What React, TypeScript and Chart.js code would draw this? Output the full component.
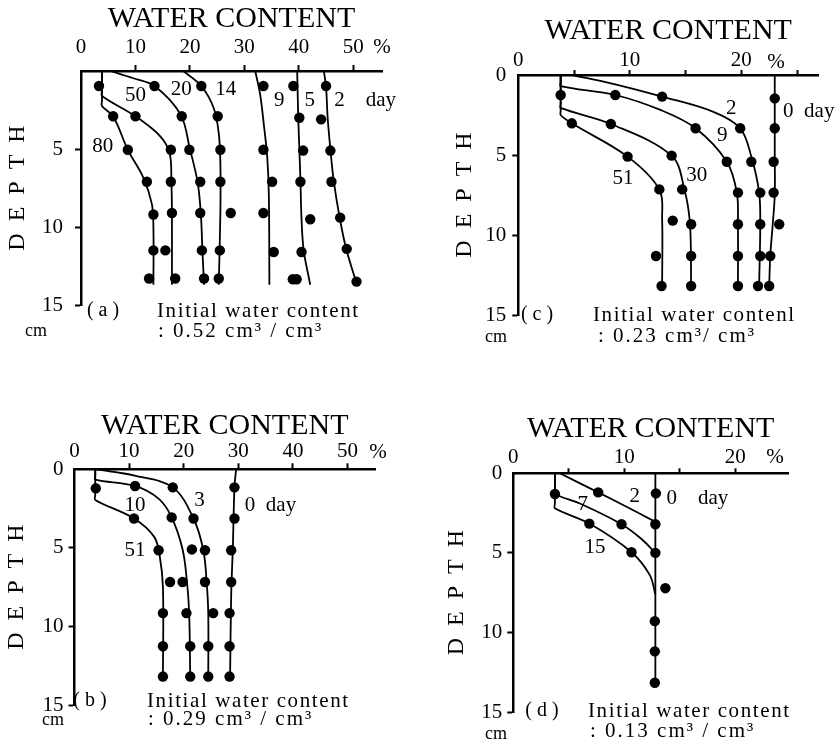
import React, { useEffect, useRef } from 'react';
import { Chart, registerables } from 'chart.js';

Chart.register(...registerables);

const FONT = "'Liberation Serif', 'DejaVu Serif', 'Times New Roman', serif";
Chart.defaults.font.family = FONT;
Chart.defaults.color = '#000';

type P = [number, number]; // [water content %, depth cm]

// ---------- Panel (a): initial water content 0.52 ----------
const aObs2: P[] = [[45.0, 0.96], [44.1, 3.1], [45.8, 5.1], [46.0, 7.1], [47.6, 9.4], [48.8, 11.4], [50.6, 13.5]];
const aObs5: P[] = [[39.0, 0.96], [40.1, 3.0], [40.8, 5.1], [40.3, 7.1], [42.1, 9.5], [40.5, 11.6], [38.9, 13.35], [39.6, 13.35]];
const aObs9: P[] = [[33.5, 0.96], [33.5, 5.05], [35.1, 7.1], [33.5, 9.1], [35.4, 11.6]];
const aObs14: P[] = [[22.1, 0.96], [25.1, 2.9], [25.6, 5.05], [25.6, 7.1], [27.5, 9.1], [25.5, 11.5], [25.3, 13.3]];
const aObs20: P[] = [[13.5, 0.96], [18.5, 2.9], [19.9, 5.05], [21.9, 7.1], [21.9, 9.1], [22.2, 11.5], [22.6, 13.3]];
const aObs50: P[] = [[10.0, 2.9], [16.5, 5.05], [16.5, 7.1], [16.7, 9.1], [15.5, 11.5], [17.3, 13.3]];
const aObs80: P[] = [[3.3, 0.96], [5.9, 2.9], [8.6, 5.05], [12.1, 7.1], [13.3, 9.2], [13.3, 11.5], [12.5, 13.3]];

const aFit2: P[] = [[44.6, 0], [45.0, 1], [45.3, 3], [45.8, 5], [46.4, 7], [47.4, 9.2], [48.7, 11.4], [50.6, 13.6]];
const aFit5: P[] = [[39.7, 0], [39.9, 3], [40.1, 5], [40.3, 7], [40.5, 9.5], [40.9, 11.5], [42.1, 13.7]];
const aFit9: P[] = [[32.0, 0], [32.9, 1.5], [33.6, 3.5], [34.2, 5.5], [34.5, 8], [34.6, 13.7]];
const aFit14: P[] = [[18.8, 0], [22.1, 0.96], [24.4, 2.4], [25.3, 4], [25.6, 6], [25.6, 9], [25.3, 13.7]];
const aFit20: P[] = [[5.4, 0], [9.5, 0.45], [13.5, 0.96], [18.3, 2.8], [20.0, 5.0], [21.4, 7.1], [22.0, 9.1], [22.3, 11.5], [22.6, 13.7]];
const aFit50: P[] = [[3.85, 0], [3.85, 1.3], [3.85, 1.6], [10.0, 2.9], [14.6, 4.2], [16.3, 5.3], [16.6, 7.1], [16.7, 9], [16.7, 13.7]];
const aFit80: P[] = [[3.85, 0], [3.85, 1.9], [3.85, 2.25], [5.9, 2.9], [8.6, 5.05], [11.4, 6.8], [13.0, 8.5], [13.3, 10], [13.3, 13.7]];

// ---------- Panel (c): initial water content 0.23 ----------
const cObs0: P[] = [[23.0, 1.46], [23.0, 3.33], [22.9, 5.42], [22.9, 7.35], [23.4, 9.33], [22.6, 11.31], [22.5, 13.19]];
const cObs2: P[] = [[12.9, 1.35], [19.9, 3.33], [20.9, 5.42], [21.7, 7.35], [21.7, 9.33], [21.7, 11.31], [21.5, 13.19]];
const cObs9: P[] = [[8.7, 1.25], [15.9, 3.33], [18.7, 5.42], [19.7, 7.35], [19.7, 9.33], [19.7, 11.31], [19.7, 13.19]];
const cObs30: P[] = [[3.8, 1.25], [8.3, 3.06], [13.75, 5.04], [14.7, 7.15], [15.5, 9.33], [15.5, 11.31], [15.5, 13.19]];
const cObs51: P[] = [[4.8, 3.02], [9.8, 5.1], [12.65, 7.15], [13.85, 9.1], [12.35, 11.31], [12.85, 13.19]];

const cFit0: P[] = [[23.0, 0], [23.0, 5], [23.0, 7.5], [22.8, 9.5], [22.6, 11.3], [22.5, 13.2]];
const cFit2: P[] = [[4.8, 0], [8.5, 0.55], [12.9, 1.35], [17.5, 2.3], [19.9, 3.33], [20.9, 5.1], [21.6, 7.35], [21.7, 9.33], [21.6, 13.2]];
const cFit9: P[] = [[3.8, 0], [3.8, 0.45], [3.8, 0.69], [8.7, 1.25], [12.8, 2.2], [15.9, 3.33], [18.7, 5.42], [19.6, 7.35], [19.7, 9.33], [19.7, 13.2]];
const cFit30: P[] = [[3.8, 0], [3.8, 1.8], [3.8, 2.06], [8.3, 3.06], [13.75, 5.04], [14.9, 7.15], [15.4, 9.33], [15.5, 13.2]];
const cFit51: P[] = [[3.8, 0], [3.8, 2.25], [3.8, 2.5], [4.8, 3.02], [9.8, 5.1], [12.65, 7.15], [12.9, 9], [12.9, 13.2]];

// ---------- Panel (b): initial water content 0.29 ----------
const bObs0: P[] = [[29.3, 1.15], [29.3, 3.13], [28.7, 5.15], [28.7, 7.17], [28.4, 9.15], [28.4, 11.26], [28.4, 13.19]];
const bObs3: P[] = [[18.0, 1.15], [21.8, 3.13], [23.9, 5.15], [23.9, 7.17], [25.4, 9.15], [24.5, 11.26], [24.5, 13.19]];
const bObs10: P[] = [[11.1, 1.06], [17.8, 3.06], [21.5, 5.1], [19.8, 7.17], [20.5, 9.15], [21.2, 11.26], [21.2, 13.19]];
const bObs51: P[] = [[3.9, 1.21], [10.9, 3.13], [15.4, 5.15], [17.5, 7.17], [16.2, 9.15], [16.2, 11.26], [16.2, 13.19]];

const bFit0: P[] = [[29.6, 0], [29.3, 1.15], [29.0, 5], [28.7, 8], [28.5, 13.2]];
const bFit3: P[] = [[4.0, 0], [11.0, 0.4], [18.0, 1.15], [21.8, 3.13], [23.6, 5.15], [24.2, 7.17], [24.5, 9.15], [24.5, 13.19]];
const bFit10: P[] = [[3.8, 0], [3.8, 0.4], [3.8, 0.65], [11.1, 1.06], [15.5, 1.9], [17.8, 3.06], [19.8, 5.1], [20.6, 7.17], [21.0, 9.15], [21.2, 13.19]];
const bFit51: P[] = [[3.8, 0], [3.8, 1.65], [3.8, 1.95], [10.9, 3.13], [14.6, 4.3], [15.6, 5.5], [16.2, 7.5], [16.2, 13.19]];

// ---------- Panel (d): initial water content 0.13 ----------
const dObs0: P[] = [[12.85, 1.26], [12.8, 3.2], [12.8, 5.0], [13.7, 7.22], [12.75, 9.29], [12.75, 11.19], [12.75, 13.16]];
const dObs2: P[] = [[7.65, 1.2]];
const dObs7: P[] = [[3.75, 1.3], [9.75, 3.2]];
const dObs15: P[] = [[6.85, 3.16], [10.65, 4.96]];

const dFit0: P[] = [[12.8, 0], [12.8, 13.16]];
const dFit2: P[] = [[4.2, 0], [7.65, 1.2], [10.2, 2.1], [12.8, 3.05]];
const dFit7: P[] = [[3.75, 0], [3.75, 1.0], [3.75, 1.3], [6.0, 1.9], [9.75, 3.2], [11.5, 4.1], [12.8, 5.0]];
const dFit15: P[] = [[3.75, 0], [3.75, 1.9], [3.75, 2.2], [6.85, 3.16], [10.65, 4.96], [12.3, 6.4], [12.8, 7.6]];

// ---------- tick labels ----------
const wideXLabels = [0, 10, 20, 30, 40, 50];
const narrowXLabels = [0, 10, 20];
const depthTitle = 'D\u2002E\u2002P\u2002T\u2002H';
const xTitle = 'WATER CONTENT';

type Lbl = { t: string; x: number; y: number; align?: CanvasTextAlign; size?: number };
type Cap = { t: string; x: number; y: number; align?: CanvasTextAlign; size?: number; ls?: number };

const aLabels: Lbl[] = [
  { t: '50', x: 10.0, y: 1.55 }, { t: '20', x: 18.4, y: 1.17 }, { t: '14', x: 26.6, y: 1.17 },
  { t: '9', x: 36.4, y: 1.9 }, { t: '5', x: 42.0, y: 1.9 }, { t: '2\u2003day', x: 46.5, y: 1.9, align: 'left' },
  { t: '80', x: 4.0, y: 4.85 },
];
const cLabels: Lbl[] = [
  { t: '2', x: 19.1, y: 2.08 }, { t: '0\u2002day', x: 23.75, y: 2.3, align: 'left' }, { t: '9', x: 18.3, y: 3.75 },
  { t: '30', x: 16.0, y: 6.25 }, { t: '51', x: 9.4, y: 6.46 },
];
const bLabels: Lbl[] = [
  { t: '3', x: 22.9, y: 1.96 }, { t: '0\u2002day', x: 31.2, y: 2.28, align: 'left' },
  { t: '10', x: 11.1, y: 2.28 }, { t: '51', x: 11.1, y: 5.15 },
];
const dLabels: Lbl[] = [
  { t: '2', x: 10.95, y: 1.47 }, { t: '0\u2003day', x: 13.8, y: 1.58, align: 'left' },
  { t: '7', x: 6.25, y: 1.93 }, { t: '15', x: 7.35, y: 4.64 },
];

const aCaptions: Cap[] = [
  { t: '( a )', x: 103, y: 311, align: 'center', size: 20 },
  { t: 'Initial water content', x: 157, y: 311, ls: 1.6, size: 21 },
  { t: ': 0.52 cm³ / cm³', x: 158, y: 331, ls: 2, size: 21 },
  { t: 'cm', x: 25, y: 331, size: 18 },
  { t: '%', x: 382, y: 47, align: 'center', size: 21 },
];
const cCaptions: Cap[] = [
  { t: '( c )', x: 119, y: 315, align: 'center', size: 20 },
  { t: 'Initial water contenl', x: 175, y: 315, ls: 1.6, size: 21 },
  { t: ': 0.23 cm³/ cm³', x: 180, y: 336, ls: 2, size: 21 },
  { t: 'cm', x: 67, y: 337, size: 18 },
  { t: '%', x: 358, y: 62, align: 'center', size: 21 },
];
const bCaptions: Cap[] = [
  { t: '( b )', x: 90, y: 329, align: 'center', size: 20 },
  { t: 'Initial water content', x: 147, y: 329, ls: 1.6, size: 21 },
  { t: ': 0.29 cm³ / cm³', x: 148, y: 347, ls: 2, size: 21 },
  { t: 'cm', x: 42, y: 348, size: 18 },
  { t: '%', x: 378, y: 80, align: 'center', size: 21 },
];
const dCaptions: Cap[] = [
  { t: '( d )', x: 124, y: 339, align: 'center', size: 20 },
  { t: 'Initial water content', x: 170, y: 339, ls: 1.6, size: 21 },
  { t: ': 0.13 cm³ / cm³', x: 172, y: 359, ls: 2, size: 21 },
  { t: 'cm', x: 67, y: 362, size: 18 },
  { t: '%', x: 357, y: 85, align: 'center', size: 21 },
];

type PanelDef = {
  left: number; top: number; w: number; h: number;
  xMax: number; xStep: number; xLabels: number[];
  yAxisW: number; xAxisH: number; padRight: number; padBottom: number;
  xTickLen: number; xTickPad: number; yTickPad: number;
  titlePad: number; yTitlePad: number; hideY0: boolean;
  fits: P[][]; obs: P[][]; labels: Lbl[]; captions: Cap[];
};

const panels: PanelDef[] = [
  {
    left: 0, top: 0, w: 418, h: 372, xMax: 55.28, xStep: 10, xLabels: wideXLabels,
    yAxisW: 81, xAxisH: 71, padRight: 36, padBottom: 67, xTickLen: 6, xTickPad: 7.5, yTickPad: 12,
    titlePad: 1, yTitlePad: 5.5, hideY0: true,
    fits: [aFit2, aFit5, aFit9, aFit14, aFit20, aFit50, aFit80],
    obs: [aObs2, aObs5, aObs9, aObs14, aObs20, aObs50, aObs80],
    labels: aLabels, captions: aCaptions,
  },
  {
    left: 418, top: 0, w: 419, h: 372, xMax: 26.88, xStep: 5, xLabels: narrowXLabels,
    yAxisW: 100.3, xAxisH: 75, padRight: 19, padBottom: 57, xTickLen: 5, xTickPad: -0.5, yTickPad: 6,
    titlePad: 13, yTitlePad: 35, hideY0: false,
    fits: [cFit0, cFit2, cFit9, cFit30, cFit51],
    obs: [cObs0, cObs2, cObs9, cObs30, cObs51],
    labels: cLabels, captions: cCaptions,
  },
  {
    left: 0, top: 372, w: 418, h: 373, xMax: 55.04, xStep: 10, xLabels: wideXLabels,
    yAxisW: 74.5, xAxisH: 97.3, padRight: 43, padBottom: 40, xTickLen: 6, xTickPad: 1, yTickPad: 5,
    titlePad: 36, yTitlePad: 4.5, hideY0: false,
    fits: [bFit0, bFit3, bFit10, bFit51],
    obs: [bObs0, bObs3, bObs10, bObs51],
    labels: bLabels, captions: bCaptions,
  },
  {
    left: 418, top: 372, w: 419, h: 373, xMax: 24.75, xStep: 5, xLabels: narrowXLabels,
    yAxisW: 95.3, xAxisH: 101.3, padRight: 49, padBottom: 33, xTickLen: 5, xTickPad: 0.5, yTickPad: 5,
    titlePad: 39, yTitlePad: 26.5, hideY0: false,
    fits: [dFit0, dFit2, dFit7, dFit15],
    obs: [dObs0, dObs2, dObs7, dObs15],
    labels: dLabels, captions: dCaptions,
  },
];

const toXY = (pts: P[]) => pts.map(([x, y]) => ({ x, y }));

const textPlugin = {
  id: 'panelText',
  afterDraw(chart: any, _args: any, opts: any) {
    const ctx: CanvasRenderingContext2D = chart.ctx;
    const xs = chart.scales.x;
    const ys = chart.scales.y;
    ctx.save();
    ctx.fillStyle = '#000';
    ctx.textBaseline = 'middle';
    const labels: Lbl[] = opts.labels || [];
    for (const l of labels) {
      ctx.font = `${l.size || 21}px ${FONT}`;
      ctx.textAlign = l.align || 'center';
      (ctx as any).letterSpacing = '0px';
      ctx.fillText(l.t, xs.getPixelForValue(l.x), ys.getPixelForValue(l.y));
    }
    const caps: Cap[] = opts.captions || [];
    for (const c of caps) {
      ctx.font = `${c.size || 21}px ${FONT}`;
      ctx.textAlign = c.align || 'left';
      (ctx as any).letterSpacing = `${c.ls || 0}px`;
      ctx.fillText(c.t, c.x, c.y);
    }
    ctx.restore();
  },
};

function buildConfig(p: PanelDef): any {
  const datasets: any[] = [];
  p.fits.forEach((f) =>
    datasets.push({
      data: toXY(f), showLine: true, pointRadius: 0, pointHoverRadius: 0,
      borderColor: '#000', borderWidth: 1.8, tension: 0.35, fill: false, clip: false,
    })
  );
  p.obs.forEach((o) =>
    datasets.push({
      data: toXY(o), showLine: false, pointRadius: 5.2, pointHoverRadius: 5.2,
      backgroundColor: '#000', borderColor: '#000', pointBorderWidth: 0, clip: false,
    })
  );
  const hidden = 'rgba(0,0,0,0)';
  return {
    type: 'scatter',
    data: { datasets },
    options: {
      responsive: false,
      maintainAspectRatio: false,
      animation: false,
      events: [],
      layout: { padding: { left: 0, top: 0, right: p.padRight, bottom: p.padBottom } },
      plugins: {
        legend: { display: false },
        tooltip: { enabled: false },
        panelText: { labels: p.labels, captions: p.captions },
      },
      scales: {
        x: {
          type: 'linear', position: 'top', min: 0, max: p.xMax,
          afterFit: (s: any) => { s.height = p.xAxisH; },
          ticks: {
            stepSize: p.xStep, includeBounds: false, padding: p.xTickPad, color: '#000',
            maxRotation: 0, autoSkip: false,
            font: { family: FONT, size: 21, lineHeight: 1 },
            callback: (v: any) => (p.xLabels.includes(Number(v)) ? String(v) : ''),
          },
          grid: {
            drawOnChartArea: false, drawTicks: true, tickLength: p.xTickLen, tickWidth: 2,
            tickColor: (c: any) => (c.tick && c.tick.value === 0 ? hidden : '#000'),
          },
          border: { display: true, color: '#000', width: 2.5 },
          title: {
            display: true, text: xTitle, color: '#000',
            font: { family: FONT, size: 30, lineHeight: 1.2 },
            padding: { top: p.titlePad, bottom: 0 },
          },
        },
        y: {
          type: 'linear', position: 'left', reverse: true, min: 0, max: 15,
          afterFit: (s: any) => { s.width = p.yAxisW; },
          ticks: {
            stepSize: 5, padding: p.yTickPad, color: '#000',
            font: { family: FONT, size: 21, lineHeight: 1 },
            callback: (v: any) => (p.hideY0 && Number(v) === 0 ? '' : String(v)),
          },
          grid: {
            drawOnChartArea: false, drawTicks: true, tickLength: 6, tickWidth: 2,
            tickColor: (c: any) => (c.tick && c.tick.value === 0 ? hidden : '#000'),
          },
          border: { display: true, color: '#000', width: 2.5 },
          title: {
            display: true, text: depthTitle, color: '#000',
            font: { family: FONT, size: 24, lineHeight: 1 },
            padding: { top: p.yTitlePad, bottom: 0 },
          },
        },
      },
    },
    plugins: [textPlugin],
  };
}

function Panel({ p }: { p: PanelDef }) {
  const ref = useRef<HTMLCanvasElement>(null);
  useEffect(() => {
    if (!ref.current) return;
    const chart = new Chart(ref.current, buildConfig(p));
    return () => chart.destroy();
  }, [p]);
  return (
    <canvas
      ref={ref}
      width={p.w}
      height={p.h}
      style={{ position: 'absolute', left: p.left, top: p.top, width: p.w, height: p.h }}
    />
  );
}

export default function App() {
  return (
    <div style={{ position: 'absolute', left: 0, top: 0, width: 837, height: 745, background: '#fff' }}>
      {panels.map((p, i) => (
        <Panel key={i} p={p} />
      ))}
    </div>
  );
}
